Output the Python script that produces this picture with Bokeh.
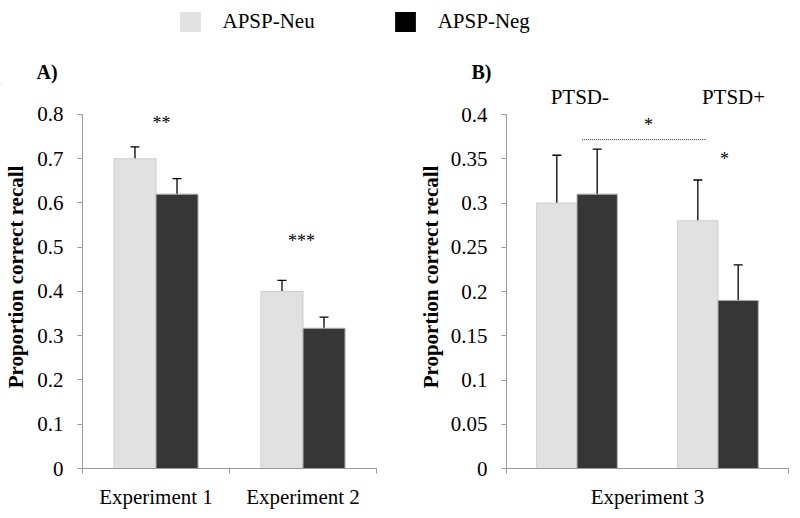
import numpy as np
from bokeh.plotting import figure
from bokeh.models import (Range1d, LinearAxis, FixedTicker, CustomJSTickFormatter,
                          Whisker, ColumnDataSource, Label, Legend, LegendItem, TeeHead)
from bokeh.layouts import column, row
from bokeh.embed import file_html
from bokeh.resources import INLINE

# ---------------- data ----------------
series = ["APSP-Neu", "APSP-Neg"]
panel_tags = ["A)", "B)"]

# Panel A
cats_a = ["Experiment 1", "Experiment 2"]
neu_a = [0.70, 0.40]
neg_a = [0.62, 0.317]
neu_err_a = [0.027, 0.025]
neg_err_a = [0.035, 0.025]
stars_a = ["**", "***"]
yticks_a = [0, 0.1, 0.2, 0.3, 0.4, 0.5, 0.6, 0.7, 0.8]

# Panel B
cats_b = ["Experiment 3"]
groups_b = ["PTSD-", "PTSD+"]
neu_b = [0.30, 0.28]
neg_b = [0.31, 0.19]
neu_err_b = [0.054, 0.046]
neg_err_b = [0.051, 0.040]
stars_b = ["*", "*"]
yticks_b = [0, 0.05, 0.1, 0.15, 0.2, 0.25, 0.3, 0.35, 0.4]

# ---------------- style ----------------
FONT = "Liberation Serif"
NEU = "#e1e1e1"
NEU_LINE = "#cdcdcd"
NEG = "#363636"
NEG_LINE = "#b4b4b4"
AXIS = "#9a9a9a"
HALF = 0.143
BW = 0.286
HEADER_H = 85
PANEL_H = 433


def make_panel(cats, n_groups, neu, neg, neu_err, neg_err, yticks, ymax, ytop,
               border_left, border_right, label_standoff):
    p = figure(width=400, height=PANEL_H, x_range=Range1d(0, n_groups), y_range=Range1d(0, ytop),
               output_backend="svg", toolbar_location=None,
               x_axis_location=None, y_axis_location=None,
               min_border_left=border_left, min_border_right=border_right,
               min_border_top=0, min_border_bottom=50)
    p.outline_line_color = None
    p.background_fill_color = "white"
    p.border_fill_color = "white"
    p.grid.visible = False

    base = np.arange(n_groups) + 0.5
    src = ColumnDataSource(dict(
        x_neu=base - HALF, x_neg=base + HALF,
        neu=neu, neg=neg,
        neu_lo=np.array(neu) - np.array(neu_err), neu_hi=np.array(neu) + np.array(neu_err),
        neg_lo=np.array(neg) - np.array(neg_err), neg_hi=np.array(neg) + np.array(neg_err),
    ))
    p.vbar(x="x_neu", top="neu", bottom=0, width=BW, source=src,
           fill_color=NEU, line_color=NEU_LINE, line_width=1)
    p.vbar(x="x_neg", top="neg", bottom=0, width=BW, source=src,
           fill_color=NEG, line_color=NEG_LINE, line_width=1)
    for b, lo, hi in (("x_neu", "neu_lo", "neu_hi"), ("x_neg", "neg_lo", "neg_hi")):
        w = Whisker(source=src, base=b, lower=lo, upper=hi,
                    line_color="black", line_width=1.3,
                    upper_head=TeeHead(size=9, line_color="black", line_width=1.3),
                    lower_head=TeeHead(size=9, line_color="black", line_width=1.3))
        p.add_layout(w)

    # x axis: category labels centred, tick marks at category boundaries
    cw = n_groups / len(cats)
    cat_pos = list((np.arange(len(cats)) + 0.5) * cw)
    cat_bounds = list(np.arange(len(cats) + 1) * cw)
    xaxis = LinearAxis(
        ticker=FixedTicker(ticks=cat_pos, minor_ticks=cat_bounds),
        formatter=CustomJSTickFormatter(args=dict(labels=cats), code="return labels[index]"),
        axis_line_color=AXIS, axis_line_width=1,
        major_tick_line_color=None, major_tick_out=0, major_tick_in=0,
        minor_tick_line_color=AXIS, minor_tick_out=5, minor_tick_in=0,
        major_label_standoff=11,
        major_label_text_font=FONT, major_label_text_font_size="21px",
        major_label_text_color="black")
    p.add_layout(xaxis, "below")

    yaxis = LinearAxis(
        ticker=FixedTicker(ticks=yticks, minor_ticks=[]),
        formatter=CustomJSTickFormatter(code="return tick.toString()"),
        bounds=(0, ymax),
        axis_line_color=AXIS, axis_line_width=1,
        major_tick_line_color=AXIS, major_tick_out=5, major_tick_in=0,
        minor_tick_line_color=None,
        major_label_standoff=14,
        major_label_text_font=FONT, major_label_text_font_size="21px",
        major_label_text_color="black",
        axis_label="Proportion correct recall",
        axis_label_text_font=FONT, axis_label_text_font_size="21px",
        axis_label_text_font_style="bold", axis_label_text_color="black",
        axis_label_standoff=label_standoff)
    p.add_layout(yaxis, "left")
    return p


def add_text(p, x, y, text, size="21px", style="normal", align="left"):
    p.add_layout(Label(x=x, y=y, text=text, text_font=FONT, text_font_size=size,
                       text_font_style=style, text_align=align,
                       text_baseline="middle", text_color="black"))


# ---------------- panel A ----------------
pa = make_panel(cats_a, len(cats_a), neu_a, neg_a, neu_err_a, neg_err_a,
                yticks_a, 0.8, 0.8655, 82, 24, 6)
stars_a_x = [0.537, 1.49]
stars_a_y = [0.7815, 0.5148]
for sx, sy, s in zip(stars_a_x, stars_a_y, stars_a):
    add_text(pa, sx, sy, s, size="18px", align="center")

# ---------------- panel B ----------------
pb = make_panel(cats_b, len(groups_b), neu_b, neg_b, neu_err_b, neg_err_b,
                yticks_b, 0.4, 0.4328, 106, 12, 5)
group_lab_x = [0.52, 1.61]
for gx, g in zip(group_lab_x, groups_b):
    add_text(pb, gx, 0.4203, g, size="21px", align="center")
# significance bracket between groups, and stars
pb.segment(x0=[0.537], x1=[1.418], y0=[0.3717], y1=[0.3717],
           line_color="#333333", line_width=1, line_dash="1 1")
stars_b_x = [1.007, 1.546]
stars_b_y = [0.3877, 0.3493]
for sx, sy, s in zip(stars_b_x, stars_b_y, stars_b):
    add_text(pb, sx, sy, s, size="18px", align="center")

# ---------------- header strip (legend + panel tags) ----------------
hd = figure(width=800, height=HEADER_H, x_range=Range1d(0, 800), y_range=Range1d(0, HEADER_H),
            output_backend="svg", toolbar_location=None,
            x_axis_location=None, y_axis_location=None, min_border=0)
hd.outline_line_color = None
hd.grid.visible = False
# legend proxies (placed outside the visible range)
r1 = hd.vbar(x=[-1000], top=[1], width=1, fill_color=NEU, line_color=None)
r2 = hd.vbar(x=[-1000], top=[1], width=1, fill_color="black", line_color=None)
legend = Legend(items=[LegendItem(label=series[0], renderers=[r1]),
                       LegendItem(label=series[1], renderers=[r2])],
                orientation="horizontal", location=(176.5, 50.6),
                glyph_width=26, glyph_height=25, label_height=25,
                label_standoff=20, spacing=77,
                padding=0, margin=0, border_line_color=None, background_fill_alpha=0,
                label_text_font=FONT, label_text_font_size="21px", label_text_color="black")
hd.add_layout(legend, "center")
tag_x = [36, 471]
tag_y = [14, 13.5]
for tx, ty, t in zip(tag_x, tag_y, panel_tags):
    add_text(hd, tx, ty, t, size="20px", style="bold")

layout = column(hd, row(pa, pb))
open("out.html", "w").write(file_html(layout, INLINE))
